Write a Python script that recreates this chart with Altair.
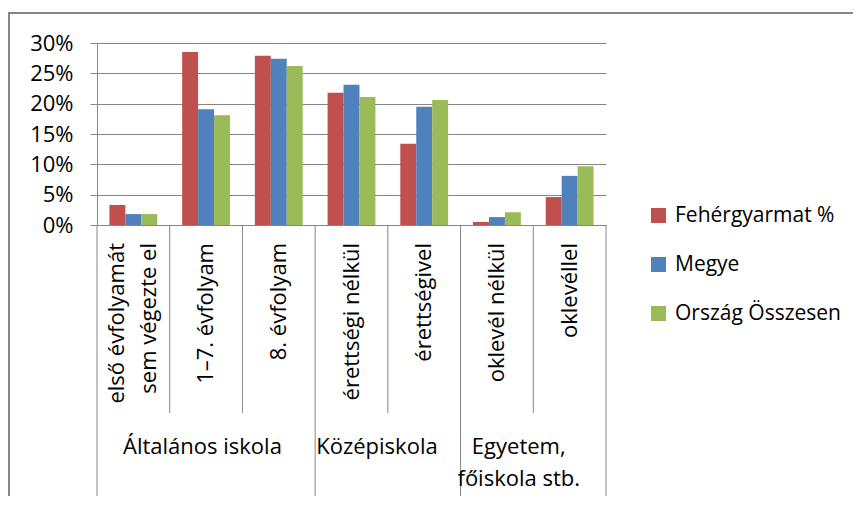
import altair as alt
import pandas as pd

# ---- data ----
categories = [
    "első évfolyamát\nsem végezte el",
    "1–7. évfolyam",
    "8. évfolyam",
    "érettségi nélkül",
    "érettségivel",
    "oklevél nélkül",
    "oklevéllel",
]
groups = ["Általános iskola", "Középiskola", "Egyetem,\nfőiskola stb."]
group_index = [0, 0, 0, 1, 1, 2, 2]
series = ["Fehérgyarmat %", "Megye", "Ország Összesen"]
colors = ["#C0504D", "#4F81BD", "#9BBB59"]

feher = [3.3, 28.5, 27.9, 21.8, 13.4, 0.5, 4.6]
megye = [1.8, 19.1, 27.4, 23.1, 19.5, 1.3, 8.1]
orszag = [1.8, 18.1, 26.2, 21.1, 20.6, 2.1, 9.7]
y_ticks = [0, 0.05, 0.10, 0.15, 0.20, 0.25, 0.30]

# ---- tables ----
rows = []
for s, vals in zip(series, [feher, megye, orszag]):
    for c, v in zip(categories, vals):
        rows.append({"cat": c, "series": s, "value": v / 100})
df = pd.DataFrame(rows)

FONT = "Open Sans"
FS = 22
GRAY = "#868686"
W, H = 509, 182
LH = 32

x_scale = alt.Scale(domain=categories, paddingInner=0, paddingOuter=0)

bars = alt.Chart(df).mark_bar().encode(
    x=alt.X("cat:N", sort=categories, scale=x_scale,
            axis=alt.Axis(labels=False, ticks=False, title=None,
                          domainColor=GRAY, domainWidth=1, grid=False)),
    xOffset=alt.XOffset("series:N", sort=series,
                        scale=alt.Scale(domain=series, paddingInner=0, paddingOuter=0.78)),
    y=alt.Y("value:Q", scale=alt.Scale(domain=[0, 0.3]),
            axis=alt.Axis(values=y_ticks, format=".0%", title=None,
                          grid=True, gridColor=GRAY, gridWidth=1,
                          domainColor=GRAY, tickColor=GRAY, tickSize=7,
                          labelPadding=17, labelFontSize=FS, labelColor="#000000",
                          labelFont=FONT)),
    color=alt.Color("series:N", sort=series,
                    scale=alt.Scale(domain=series, range=colors),
                    legend=alt.Legend(title=None, orient="none", legendX=551, legendY=162,
                                      symbolType="square", symbolSize=225,
                                      symbolStrokeWidth=0, labelFontSize=21,
                                      labelFont=FONT, labelColor="#000000",
                                      labelLimit=400,
                                      rowPadding=27, labelOffset=6)),
)

# separators between categories
short_df = pd.DataFrame({"cat": [c for i, c in enumerate(categories)
                                 if i > 0 and group_index[i] == group_index[i - 1]]})
long_df = pd.DataFrame({"cat": [c for i, c in enumerate(categories)
                                if i == 0 or group_index[i] != group_index[i - 1]]})
last_df = pd.DataFrame({"cat": [categories[-1]]})

short_rules = alt.Chart(short_df).mark_rule(color=GRAY, strokeWidth=1).encode(
    x=alt.X("cat:N", bandPosition=0, scale=x_scale, sort=categories),
    y=alt.value(H), y2=alt.value(H + 188))
long_rules = alt.Chart(long_df).mark_rule(color=GRAY, strokeWidth=1).encode(
    x=alt.X("cat:N", bandPosition=0, scale=x_scale, sort=categories),
    y=alt.value(H), y2=alt.value(H + 273))
last_rule = alt.Chart(last_df).mark_rule(color=GRAY, strokeWidth=1).encode(
    x=alt.X("cat:N", bandPosition=1, scale=x_scale, sort=categories),
    y=alt.value(H), y2=alt.value(H + 273))

# category labels (rotated); multi-line labels are shifted to stay centred
cat_layers = []
for nlines in sorted({c.count("\n") + 1 for c in categories}):
    cdf = pd.DataFrame({"cat": [c for c in categories if c.count("\n") + 1 == nlines]})
    cat_layers.append(
        alt.Chart(cdf).mark_text(
            angle=270, align="right", baseline="middle", fontSize=FS, font=FONT,
            color="#000000", lineBreak="\n", lineHeight=LH,
            dy=-(nlines - 1) * LH / 2).encode(
            x=alt.X("cat:N", scale=x_scale, sort=categories),
            y=alt.value(H + 18), text="cat:N"))

# group labels
group_layers = []
anchors = [(categories[1], 0.45), (categories[3], 0.85), (categories[5], 0.8)]
for g, (anchor, bp) in zip(groups, anchors):
    gdf = pd.DataFrame({"cat": [anchor], "label": [g]})
    group_layers.append(
        alt.Chart(gdf).mark_text(
            align="center", baseline="top", fontSize=FS, font=FONT,
            color="#000000", lineBreak="\n", lineHeight=LH).encode(
            x=alt.X("cat:N", bandPosition=bp, scale=x_scale, sort=categories),
            y=alt.value(H + 212), text="label:N"))

# outer frame (top and left edges)
one = pd.DataFrame({"k": [0]})
frame_top = alt.Chart(one).mark_rule(color=GRAY, strokeWidth=2).encode(
    x=alt.value(-89), x2=alt.value(770), y=alt.value(-30))
frame_left = alt.Chart(one).mark_rule(color=GRAY, strokeWidth=2).encode(
    x=alt.value(-88), y=alt.value(-31), y2=alt.value(470))

chart = alt.layer(
    bars, short_rules, long_rules, last_rule, *cat_layers, *group_layers,
    frame_top, frame_left
).properties(
    width=W, height=H,
    padding={"left": 89, "top": 35, "right": 247, "bottom": 271},
    autosize=alt.AutoSizeParams(type="none"),
).configure_view(stroke=None)

chart.save("out.html", embed_options={"renderer": "svg", "actions": False})
